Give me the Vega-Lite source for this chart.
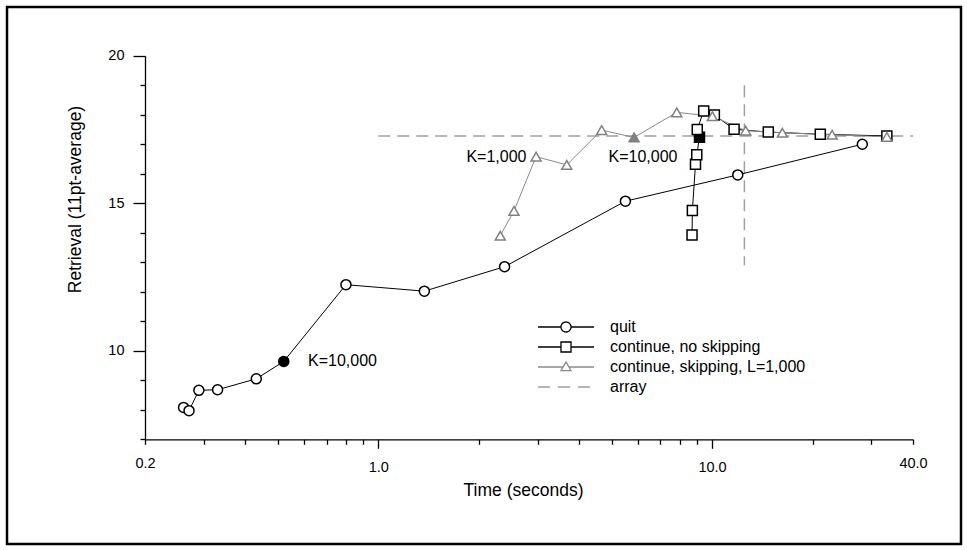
{
  "$schema": "https://vega.github.io/schema/vega-lite/v6.json",
  "width": 954,
  "height": 537,
  "autosize": {"type": "none"},
  "padding": {"left": 7, "top": 7, "right": 6, "bottom": 6},
  "background": "white",
  "config": {
    "view": {"stroke": "black", "strokeWidth": 2.5},
    "font": "Liberation Sans",
    "axis": {
      "grid": false,
      "domainColor": "black",
      "tickColor": "black",
      "labelColor": "black",
      "titleColor": "black",
      "labelFont": "Liberation Sans",
      "titleFont": "Liberation Sans",
      "titleFontWeight": "normal",
      "labelFontSize": 14.5,
      "titleFontSize": 17.5,
      "domainWidth": 1.3,
      "tickWidth": 1.3,
      "labelFlush": false,
      "labelOverlap": false
    }
  },
  "datasets": {
    "series": [
      {"series": "quit", "order": 1, "t": 0.261, "r": 8.08, "k": false},
      {"series": "quit", "order": 2, "t": 0.271, "r": 7.97, "k": false},
      {"series": "quit", "order": 3, "t": 0.290, "r": 8.66, "k": false},
      {"series": "quit", "order": 4, "t": 0.330, "r": 8.68, "k": false},
      {"series": "quit", "order": 5, "t": 0.431, "r": 9.05, "k": false},
      {"series": "quit", "order": 6, "t": 0.521, "r": 9.64, "k": true},
      {"series": "quit", "order": 7, "t": 0.80, "r": 12.24, "k": false},
      {"series": "quit", "order": 8, "t": 1.374, "r": 12.02, "k": false},
      {"series": "quit", "order": 9, "t": 2.39, "r": 12.85, "k": false},
      {"series": "quit", "order": 10, "t": 5.50, "r": 15.07, "k": false},
      {"series": "quit", "order": 11, "t": 11.94, "r": 15.96, "k": false},
      {"series": "quit", "order": 12, "t": 28.2, "r": 17.0, "k": false},
      {"series": "continue, no skipping", "order": 1, "t": 8.71, "r": 13.92, "k": false},
      {"series": "continue, no skipping", "order": 2, "t": 8.73, "r": 14.75, "k": false},
      {"series": "continue, no skipping", "order": 3, "t": 8.92, "r": 16.32, "k": false},
      {"series": "continue, no skipping", "order": 4, "t": 9.00, "r": 16.64, "k": false},
      {"series": "continue, no skipping", "order": 5, "t": 9.17, "r": 17.24, "k": true},
      {"series": "continue, no skipping", "order": 6, "t": 9.03, "r": 17.50, "k": false},
      {"series": "continue, no skipping", "order": 7, "t": 9.44, "r": 18.13, "k": false},
      {"series": "continue, no skipping", "order": 8, "t": 10.16, "r": 17.99, "k": false},
      {"series": "continue, no skipping", "order": 9, "t": 11.64, "r": 17.51, "k": false},
      {"series": "continue, no skipping", "order": 10, "t": 14.74, "r": 17.41, "k": false},
      {"series": "continue, no skipping", "order": 11, "t": 21.1, "r": 17.34, "k": false},
      {"series": "continue, no skipping", "order": 12, "t": 33.4, "r": 17.28, "k": false},
      {"series": "continue, skipping, L=1,000", "order": 1, "t": 2.32, "r": 13.90, "k": false},
      {"series": "continue, skipping, L=1,000", "order": 2, "t": 2.55, "r": 14.74, "k": false},
      {"series": "continue, skipping, L=1,000", "order": 3, "t": 2.97, "r": 16.58, "k": false},
      {"series": "continue, skipping, L=1,000", "order": 4, "t": 3.67, "r": 16.30, "k": false},
      {"series": "continue, skipping, L=1,000", "order": 5, "t": 4.67, "r": 17.48, "k": false},
      {"series": "continue, skipping, L=1,000", "order": 6, "t": 5.84, "r": 17.23, "k": true},
      {"series": "continue, skipping, L=1,000", "order": 7, "t": 7.84, "r": 18.08, "k": false},
      {"series": "continue, skipping, L=1,000", "order": 8, "t": 10.02, "r": 17.95, "k": false},
      {"series": "continue, skipping, L=1,000", "order": 9, "t": 12.61, "r": 17.46, "k": false},
      {"series": "continue, skipping, L=1,000", "order": 10, "t": 16.24, "r": 17.39, "k": false},
      {"series": "continue, skipping, L=1,000", "order": 11, "t": 22.9, "r": 17.32, "k": false},
      {"series": "continue, skipping, L=1,000", "order": 12, "t": 33.4, "r": 17.25, "k": false}
    ],
    "array": [
      {"series": "array", "t": 1.0, "t2": 40, "r": 17.28, "r2": 17.28},
      {"series": "array", "t": 12.5, "t2": 12.5, "r": 19.0, "r2": 12.9}
    ],
    "labels": [
      {"t": 0.781, "r": 9.64, "label": "K=10,000"},
      {"t": 2.26, "r": 16.57, "label": "K=1,000"},
      {"t": 6.21, "r": 16.57, "label": "K=10,000"}
    ]
  },
  "layer": [
    {
      "data": {"name": "array"},
      "mark": {"type": "rule", "strokeDash": [12, 7], "strokeWidth": 1.5},
      "encoding": {
        "x": {
          "field": "t", "type": "quantitative",
          "scale": {"type": "log", "domain": [0.2, 40], "range": [138, 906], "nice": false},
          "axis": {
            "title": "Time (seconds)",
            "offset": -104.7,
            "values": [0.2, 0.3, 0.4, 0.5, 0.6, 0.7, 0.8, 0.9, 1, 2, 3, 4, 5, 6, 7, 8, 9, 10, 20, 30, 40],
            "labelExpr": "indexof([0.2,1,10,40], datum.value) >= 0 ? format(datum.value, '.1f') : ''",
            "tickSize": {"condition": {"test": "datum.value === 1 || datum.value === 10", "value": 9}, "value": 5},
            "labelPadding": 12,
            "titleX": 516,
            "titleY": 51,
            "titleBaseline": "middle"
          }
        },
        "x2": {"field": "t2"},
        "y": {
          "field": "r", "type": "quantitative",
          "scale": {"domain": [7, 20], "range": [432.3, 48.7], "nice": false, "zero": false},
          "axis": {
            "title": "Retrieval (11pt-average)",
            "offset": -138,
            "values": [7, 8, 9, 10, 11, 12, 13, 14, 15, 16, 17, 18, 19, 20],
            "labelExpr": "datum.value % 5 === 0 ? datum.label : ''",
            "tickSize": {"condition": {"test": "datum.value % 5 === 0", "value": 12}, "value": 5},
            "labelPadding": 9,
            "titleX": -70,
            "titleY": 192,
            "titleBaseline": "middle"
          }
        },
        "y2": {"field": "r2"},
        "color": {
          "field": "series", "type": "nominal",
          "scale": {
            "domain": ["quit", "continue, no skipping", "continue, skipping, L=1,000", "array"],
            "range": ["#000000", "#000000", "#8a8a8a", "#a0a0a0"]
          },
          "legend": {
            "title": null,
            "orient": "none",
            "legendX": 530,
            "legendY": 311,
            "padding": 0,
            "symbolSize": 3136,
            "clipHeight": 18,
            "rowPadding": 2,
            "labelOffset": 15,
            "labelFontSize": 16,
            "labelFont": "Liberation Sans",
            "labelColor": "black",
            "labelLimit": 400,
            "symbolStrokeWidth": 1.3,
            "encode": {
              "symbols": {
                "update": {
                  "shape": {"signal": "datum.value === 'quit' ? 'M-1,0H-0.179M0.179,0H1M-0.179,0A0.179,0.179 0 1,0 0.179,0A0.179,0.179 0 1,0 -0.179,0Z' : datum.value === 'continue, no skipping' ? 'M-1,0H-0.179M0.179,0H1M-0.179,-0.179H0.179V0.179H-0.179Z' : datum.value === 'array' ? 'M-1,0H1' : 'M-1,0H-0.104M0.104,0H1M0,-0.18L0.179,0.13L-0.179,0.13Z'"},
                  "strokeDash": {"signal": "datum.value === 'array' ? [12,8] : [1,0]"},
                  "fill": {"value": "white"},
                  "fillOpacity": {"value": 1},
                  "strokeWidth": {"value": 1.3},
                  "opacity": {"value": 1}
                }
              }
            }
          }
        }
      }
    },
    {
      "data": {"name": "series"},
      "mark": {"type": "line", "strokeWidth": 1},
      "encoding": {
        "x": {"field": "t", "type": "quantitative"},
        "y": {"field": "r", "type": "quantitative"},
        "color": {"field": "series", "type": "nominal"},
        "order": {"field": "order", "type": "quantitative"}
      }
    },
    {
      "data": {"name": "series"},
      "mark": {"type": "point", "filled": true, "size": 100, "strokeWidth": 1.5, "opacity": 1},
      "encoding": {
        "x": {"field": "t", "type": "quantitative"},
        "y": {"field": "r", "type": "quantitative"},
        "shape": {
          "field": "series", "type": "nominal",
          "scale": {"domain": ["quit", "continue, no skipping", "continue, skipping, L=1,000"], "range": ["circle", "square", "triangle-up"]},
          "legend": null
        },
        "stroke": {
          "field": "series", "type": "nominal",
          "scale": {"domain": ["quit", "continue, no skipping", "continue, skipping, L=1,000"], "range": ["#000000", "#000000", "#808080"]},
          "legend": null
        },
        "fill": {
          "condition": [
            {"test": "datum.k && datum.series === 'continue, skipping, L=1,000'", "value": "#808080"},
            {"test": "datum.k", "value": "#000000"}
          ],
          "value": "white"
        }
      }
    },
    {
      "data": {"name": "labels"},
      "mark": {"type": "text", "fontSize": 16, "font": "Liberation Sans", "align": "center", "baseline": "middle", "color": "black"},
      "encoding": {
        "x": {"field": "t", "type": "quantitative"},
        "y": {"field": "r", "type": "quantitative"},
        "text": {"field": "label"}
      }
    }
  ]
}
